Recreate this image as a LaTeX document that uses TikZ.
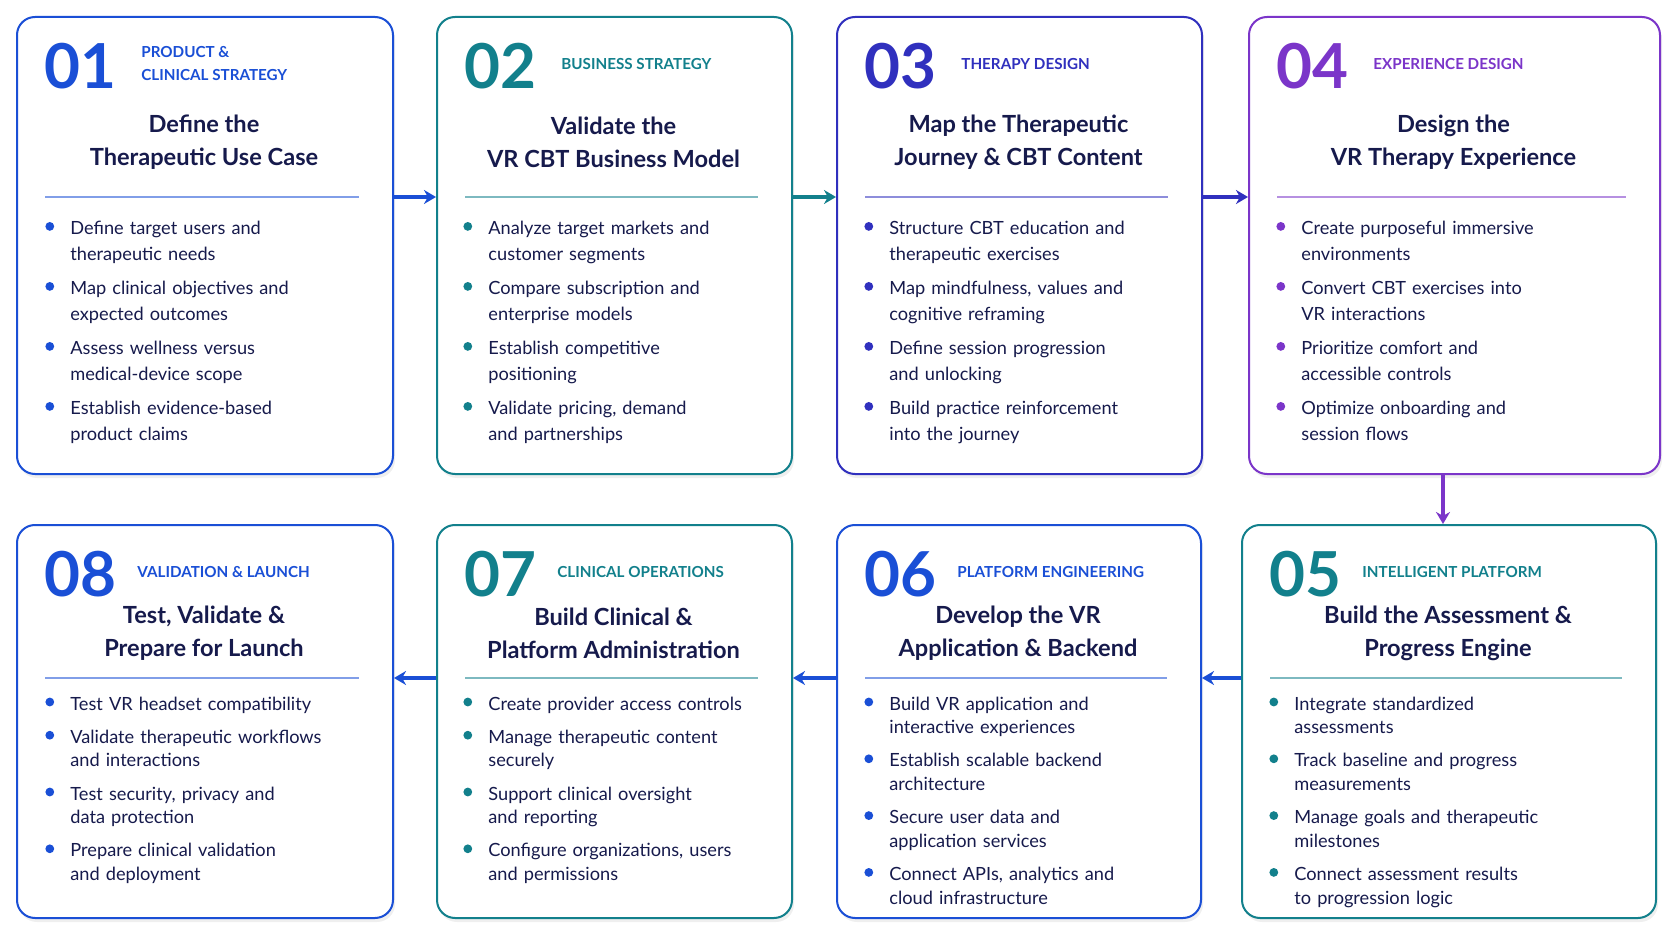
\documentclass[tikz,border=0pt]{standalone}
\usepackage{fontspec}
\setmainfont{Lato}
\usetikzlibrary{arrows.meta,shadows}
\definecolor{cblue}{HTML}{1A4FD6}
\definecolor{cteal}{HTML}{12808C}
\definecolor{cindigo}{HTML}{3030BE}
\definecolor{cpurple}{HTML}{7B35C9}
\definecolor{navy}{HTML}{161A4C}
\tikzset{
  card/.style={draw=#1, line width=1pt, rounded corners=9pt, fill=white,
    drop shadow={opacity=0.12, shadow xshift=1pt, shadow yshift=-2pt}},
  num/.style={anchor=west, text=#1, font=\fontsize{31}{31}\selectfont\bfseries, inner sep=0pt},
  cat/.style={anchor=west, text=#1, font=\fontsize{7.6}{11.5}\selectfont\bfseries, align=left, inner sep=0pt},
  ttl/.style={anchor=center, text=navy, font=\fontsize{11.8}{16.5}\selectfont\bfseries, align=center, inner sep=0pt},
  sep/.style={draw=#1!55, line width=0.6pt},
  flow/.style={draw=#1, line width=1.6pt, -{Stealth[length=6pt,width=7pt]}},
}
\newcommand{\bul}[2]{\par\noindent\hangindent=12.5pt\hangafter=1\makebox[12.5pt][l]{\raisebox{1.8pt}{\tikz\fill[#1] (0,0) circle (2.2pt);}}#2\par}
% name, left, top, right, bottom, color, number, category, title
\newcommand{\cardbox}[9]{%
  \node[card=#6, minimum width={(#4-#2)*0.5pt}, minimum height={(#5-#3)*0.5pt}, anchor=north west, inner sep=0pt] (#1) at (#2,#3) {};
  \node[num=#6] (#1n) at (#2+28,#3+50) {#7};
  \node[cat=#6] (#1c) at (#2+\catoff,#3+48) {#8};
  \node[ttl] (#1t) at ({(#2+#4)/2},#3+\ttloff) {#9};
  \draw[sep=#6] (#2+29,#3+\sepoff) coordinate (#1s1) -- (#4-33,#3+\sepoff) coordinate (#1s2);
}
\newcommand{\itemsat}[5]{% name, x, y, skip, list
  \node[anchor=north west, inner sep=0pt, text=navy, text width=170pt, align=left,
    font=\fontsize{9.1}{#4}\selectfont] (#1i) at (#2,#3) {#5};
}
\begin{document}
\begin{tikzpicture}[x=0.5pt,y=-0.5pt]
\useasboundingbox (0,0) rectangle (1672,941);
\fill[white] (0,0) rectangle (1672,941);
% top row
\def\catoff{125}\def\ttloff{126}\def\sepoff{181}
\cardbox{c1}{16}{16}{392}{473}{cblue}{01}{PRODUCT \&\\CLINICAL STRATEGY}{Define the\\Therapeutic Use Case}
\cardbox{c2}{436}{16}{791}{473}{cteal}{02}{BUSINESS STRATEGY}{Validate the\\VR CBT Business Model}
\cardbox{c3}{836}{16}{1201}{473}{cindigo}{03}{THERAPY DESIGN}{Map the Therapeutic\\Journey \& CBT Content}
\cardbox{c4}{1248}{16}{1659}{473}{cpurple}{04}{EXPERIENCE DESIGN}{Design the\\VR Therapy Experience}
% bottom row
\def\catoff{121}\def\ttloff{109}\def\sepoff{154}
\cardbox{c8}{16}{524}{392}{917}{cblue}{08}{VALIDATION \& LAUNCH}{Test, Validate \&\\Prepare for Launch}
\cardbox{c7}{436}{524}{791}{917}{cteal}{07}{CLINICAL OPERATIONS}{Build Clinical \&\\Platform Administration}
\cardbox{c6}{836}{524}{1200}{917}{cblue}{06}{PLATFORM ENGINEERING}{Develop the VR\\Application \& Backend}
\cardbox{c5}{1241}{524}{1655}{917}{cteal}{05}{INTELLIGENT PLATFORM}{Build the Assessment \&\\Progress Engine}
% bullets top
\itemsat{c1}{45}{208}{13}{\bul{cblue}{Define target users and\newline therapeutic needs}\vspace{4pt}\bul{cblue}{Map clinical objectives and\newline expected outcomes}\vspace{4pt}\bul{cblue}{Assess wellness versus\newline medical-device scope}\vspace{4pt}\bul{cblue}{Establish evidence-based\newline product claims}}
\itemsat{c2}{463}{208}{13}{\bul{cteal}{Analyze target markets and\newline customer segments}\vspace{4pt}\bul{cteal}{Compare subscription and\newline enterprise models}\vspace{4pt}\bul{cteal}{Establish competitive\newline positioning}\vspace{4pt}\bul{cteal}{Validate pricing, demand\newline and partnerships}}
\itemsat{c3}{864}{208}{13}{\bul{cindigo}{Structure CBT education and\newline therapeutic exercises}\vspace{4pt}\bul{cindigo}{Map mindfulness, values and\newline cognitive reframing}\vspace{4pt}\bul{cindigo}{Define session progression\newline and unlocking}\vspace{4pt}\bul{cindigo}{Build practice reinforcement\newline into the journey}}
\itemsat{c4}{1276}{208}{13}{\bul{cpurple}{Create purposeful immersive\newline environments}\vspace{4pt}\bul{cpurple}{Convert CBT exercises into\newline VR interactions}\vspace{4pt}\bul{cpurple}{Prioritize comfort and\newline accessible controls}\vspace{4pt}\bul{cpurple}{Optimize onboarding and\newline session flows}}
% bullets bottom
\itemsat{c8}{45}{686}{11.8}{\bul{cblue}{Test VR headset compatibility}\vspace{4.8pt}\bul{cblue}{Validate therapeutic workflows\newline and interactions}\vspace{4.8pt}\bul{cblue}{Test security, privacy and\newline data protection}\vspace{4.8pt}\bul{cblue}{Prepare clinical validation\newline and deployment}}
\itemsat{c7}{463}{686}{11.8}{\bul{cteal}{Create provider access controls}\vspace{4.8pt}\bul{cteal}{Manage therapeutic content\newline securely}\vspace{4.8pt}\bul{cteal}{Support clinical oversight\newline and reporting}\vspace{4.8pt}\bul{cteal}{Configure organizations, users\newline and permissions}}
\itemsat{c6}{864}{686}{11.8}{\bul{cblue}{Build VR application and\newline interactive experiences}\vspace{4.8pt}\bul{cblue}{Establish scalable backend\newline architecture}\vspace{4.8pt}\bul{cblue}{Secure user data and\newline application services}\vspace{4.8pt}\bul{cblue}{Connect APIs, analytics and\newline cloud infrastructure}}
\itemsat{c5}{1269}{686}{11.8}{\bul{cteal}{Integrate standardized\newline assessments}\vspace{4.8pt}\bul{cteal}{Track baseline and progress\newline measurements}\vspace{4.8pt}\bul{cteal}{Manage goals and therapeutic\newline milestones}\vspace{4.8pt}\bul{cteal}{Connect assessment results\newline to progression logic}}
% arrows
\draw[flow=cblue] (c1.east |- 0,197) -- (c2.west |- 0,197);
\draw[flow=cteal] (c2.east |- 0,197) -- (c3.west |- 0,197);
\draw[flow=cindigo] (c3.east |- 0,197) -- (c4.west |- 0,197);
\draw[flow=cpurple] (c4.south -| 1443,0) -- (c5.north -| 1443,0);
\draw[flow=cblue] (c5.west |- 0,678) -- (c6.east |- 0,678);
\draw[flow=cblue] (c6.west |- 0,678) -- (c7.east |- 0,678);
\draw[flow=cblue] (c7.west |- 0,678) -- (c8.east |- 0,678);
\end{tikzpicture}
\end{document}
